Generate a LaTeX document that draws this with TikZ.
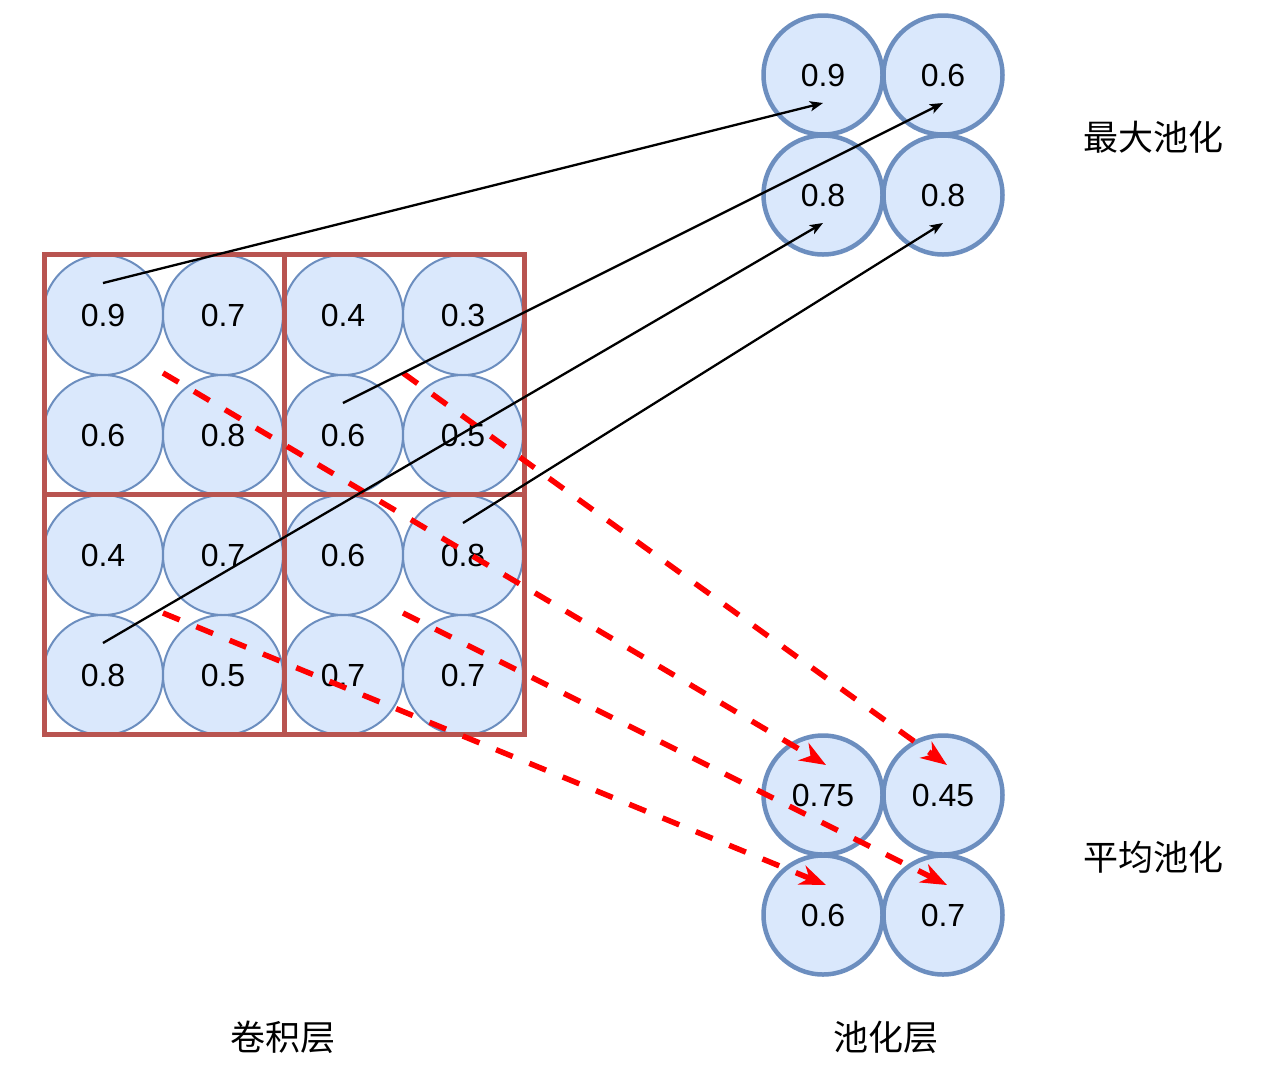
\documentclass[tikz,border=0pt]{standalone}
\usepackage{fontspec}
\setmainfont{Liberation Sans}
\newfontfamily\cjk{Noto Sans CJK SC}
\usetikzlibrary{arrows.meta}
\definecolor{cfill}{HTML}{DAE8FC}
\definecolor{cline}{HTML}{6C8EBF}
\definecolor{rline}{HTML}{B85450}
\definecolor{rdash}{HTML}{FF0000}
\begin{document}
\begin{tikzpicture}[x=1pt,y=-1pt,
  cell/.style={circle,draw=cline,fill=cfill,line width=2pt,minimum size=120pt,inner sep=0pt,outer sep=0pt,font=\fontsize{32}{32}\selectfont},
  pool/.style={cell,line width=4.5pt,minimum size=119pt},
  blk/.style={-{Stealth[length=13pt,width=10pt,inset=3pt]},line width=2.3pt,black},
  reddash/.style={-{Stealth[length=26pt,width=20pt,inset=8pt]},line width=5.5pt,draw=rdash,dash pattern=on 18pt off 18pt},
  lab/.style={font=\cjk\fontsize{35}{35}\selectfont,inner sep=0pt}]
\useasboundingbox (0,0) rectangle (1280,1080);
% convolution grid
\foreach \r/\y in {1/315,2/435,3/555,4/675}{
  \foreach \c/\x in {1/103,2/223,3/343,4/463}{
    \coordinate (p\r\c) at (\x,\y);
  }
}
\node[cell] (g11) at (p11) {0.9};
\node[cell] (g12) at (p12) {0.7};
\node[cell] (g13) at (p13) {0.4};
\node[cell] (g14) at (p14) {0.3};
\node[cell] (g21) at (p21) {0.6};
\node[cell] (g22) at (p22) {0.8};
\node[cell] (g23) at (p23) {0.6};
\node[cell] (g24) at (p24) {0.5};
\node[cell] (g31) at (p31) {0.4};
\node[cell] (g32) at (p32) {0.7};
\node[cell] (g33) at (p33) {0.6};
\node[cell] (g34) at (p34) {0.8};
\node[cell] (g41) at (p41) {0.8};
\node[cell] (g42) at (p42) {0.5};
\node[cell] (g43) at (p43) {0.7};
\node[cell] (g44) at (p44) {0.7};
% red frames
\draw[rline,line width=5pt] (44,254) rectangle (524,734);
\draw[rline,line width=5pt] (284,254) -- (284,734);
\draw[rline,line width=5pt] (44,494) -- (524,494);
% max pooling
\node[pool] (m1) at (823,75) {0.9};
\node[pool] (m2) at (943,75) {0.6};
\node[pool] (m3) at (823,195) {0.8};
\node[pool] (m4) at (943,195) {0.8};
% average pooling
\node[pool] (a1) at (823,795) {0.75};
\node[pool] (a2) at (943,795) {0.45};
\node[pool] (a3) at (823,915) {0.6};
\node[pool] (a4) at (943,915) {0.7};
% labels
\node[lab] (l1) at (1153,137) {最大池化};
\node[lab] (l2) at (1153,857) {平均池化};
\node[lab] (l3) at (283,1037) {卷积层};
\node[lab] (l4) at (886,1037) {池化层};
% connector end points
\coordinate (b1s) at ([shift={(0,-32)}]g11.center);
\coordinate (b2s) at ([shift={(0,-32)}]g23.center);
\coordinate (b3s) at ([shift={(0,-32)}]g41.center);
\coordinate (b4s) at ([shift={(0,-32)}]g34.center);
\coordinate (b1e) at ([shift={(0,28)}]m1.center);
\coordinate (b2e) at ([shift={(0,28)}]m2.center);
\coordinate (b3e) at ([shift={(0,28)}]m3.center);
\coordinate (b4e) at ([shift={(0,28)}]m4.center);
\coordinate (r1s) at ([shift={(60,58)}]g11.center);
\coordinate (r2s) at ([shift={(60,58)}]g13.center);
\coordinate (r3s) at ([shift={(60,58)}]g31.center);
\coordinate (r4s) at ([shift={(60,58)}]g33.center);
\coordinate (r1e) at ([shift={(3,-30)}]a1.center);
\coordinate (r2e) at ([shift={(4,-30)}]a2.center);
\coordinate (r3e) at ([shift={(3,-30)}]a3.center);
\coordinate (r4e) at ([shift={(4,-30)}]a4.center);
% red dashed arrows
\draw[reddash] (r1s) -- (r1e);
\draw[reddash] (r2s) -- (r2e);
\draw[reddash] (r3s) -- (r3e);
\draw[reddash] (r4s) -- (r4e);
% black arrows
\draw[blk] (b1s) -- (b1e);
\draw[blk] (b2s) -- (b2e);
\draw[blk] (b3s) -- (b3e);
\draw[blk] (b4s) -- (b4e);
\end{tikzpicture}
\end{document}
